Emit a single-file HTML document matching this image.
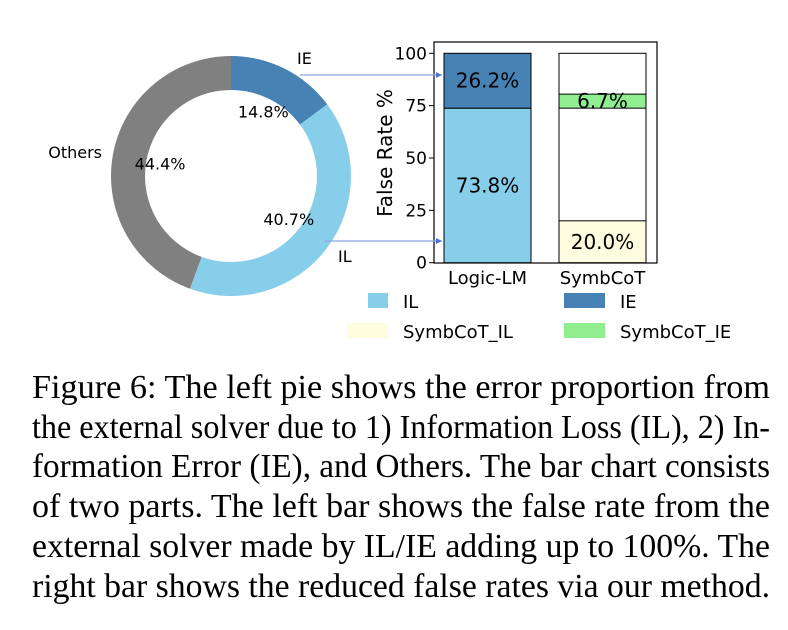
<!DOCTYPE html>
<html><head><meta charset="utf-8"><style>
html,body{margin:0;padding:0;background:#fff;}
svg{display:block;}
</style></head><body>
<svg id="fig" width="788" height="630" viewBox="0 0 788 630" xmlns="http://www.w3.org/2000/svg" font-family="'DejaVu Sans', 'Liberation Sans', sans-serif">
<defs><marker id="ah" viewBox="0 0 10 10" refX="10" refY="5" markerWidth="5" markerHeight="5" orient="auto"><path d="M0,0L10,5L0,10z" fill="#4a72d8"/></marker></defs>
<g id="pie"></g>
<g id="bars"></g>
<line x1="300" y1="75" x2="442" y2="75" stroke="#8aa6e6" stroke-width="1.2" marker-end="url(#ah)"/>
<line x1="325" y1="241" x2="442" y2="241" stroke="#8aa6e6" stroke-width="1.2" marker-end="url(#ah)"/>
<g font-size="18">
<rect x="368" y="293" width="20" height="15" fill="#87ceeb"/>
<text x="403" y="308">IL</text>
<rect x="564" y="293" width="41" height="15" fill="#4682b4"/>
<text x="620" y="308">IE</text>
<rect x="347" y="323" width="41" height="15" fill="#fffde0"/>
<text x="403" y="338">SymbCoT_IL</text>
<rect x="564" y="323" width="41" height="15" fill="#90ee90"/>
<text x="620" y="338">SymbCoT_IE</text>
</g>
<g font-family="'Liberation Serif', serif" font-size="34">
<text x="32" y="398" textLength="738" lengthAdjust="spacingAndGlyphs">Figure 6: The left pie shows the error proportion from</text>
<text x="32" y="438" textLength="738" lengthAdjust="spacingAndGlyphs">the external solver due to 1) Information Loss (IL), 2) In-</text>
<text x="32" y="477" textLength="738" lengthAdjust="spacingAndGlyphs">formation Error (IE), and Others. The bar chart consists</text>
<text x="32" y="517" textLength="738" lengthAdjust="spacingAndGlyphs">of two parts. The left bar shows the false rate from the</text>
<text x="32" y="557" textLength="738" lengthAdjust="spacingAndGlyphs">external solver made by IL/IE adding up to 100%. The</text>
<text x="32" y="597" textLength="738" lengthAdjust="spacingAndGlyphs">right bar shows the reduced false rates via our method.</text>
</g>
</svg>
<script>
const pieLabels = ["IE","IL","Others"];
const pieValues = [14.8, 40.7, 44.4];
const pieColors = ["#4682b4","#87ceeb","#808080"];
const barCategories = ["Logic-LM","SymbCoT"];
const ilValues = [73.8, 20.0];
const ieValues = [26.2, 6.7];
const yTicks = [0,25,50,75,100];
const NS="http://www.w3.org/2000/svg";
function mk(tag, attrs, parent, txt){const e=document.createElementNS(NS,tag);for(const k in attrs)e.setAttribute(k,attrs[k]);if(txt!==undefined)e.textContent=txt;parent.appendChild(e);return e;}
const pie=document.getElementById('pie');
const cx=231, cy=176, R=120, r=86;
const total=pieValues.reduce((a,b)=>a+b,0);
let ang=0;
const labelPos=[[297,58,'start'],[338,256,'start'],[102,152,'end']];
pieValues.forEach((v,i)=>{
  const a0=ang, a1=ang+v/total*2*Math.PI; ang=a1;
  const p=(a,rr)=>[cx+rr*Math.sin(a), cy-rr*Math.cos(a)];
  const [x0,y0]=p(a0,R),[x1,y1]=p(a1,R),[x2,y2]=p(a1,r),[x3,y3]=p(a0,r);
  const large=(a1-a0)>Math.PI?1:0;
  const s=mk('path',{d:`M${x0},${y0}A${R},${R} 0 ${large} 1 ${x1},${y1}L${x2},${y2}A${r},${r} 0 ${large} 0 ${x3},${y3}Z`,fill:pieColors[i]},pie);
  
  
  const mid=(a0+a1)/2;
  const [tx,ty]=p(mid,R*0.6);
  const t=mk('text',{x:tx,y:ty+6,'text-anchor':'middle','font-size':16},pie,v.toFixed(1)+'%');
  
  
  const l=mk('text',{x:labelPos[i][0],y:labelPos[i][1]+6,'text-anchor':labelPos[i][2],'font-size':16},pie,pieLabels[i]);
  
  
});
const g=document.getElementById('bars');
const ax0=434, ax1=657, ay0=42, ay1=263;
const yBase=262.7, yScale=2.094;
const Y=v=>yBase-v*yScale;
const barX=[444,559], barW=87;
const fr=mk('rect',{x:ax0,y:ay0,width:ax1-ax0,height:ay1-ay0,fill:'none',stroke:'#000','stroke-width':1.2},g);


yTicks.forEach(t=>{
  const tk=mk('line',{x1:ax0-5,x2:ax0,y1:Y(t),y2:Y(t),stroke:'#000'},g);
  
  
  const tl=mk('text',{x:ax0-7,y:Y(t)+6,'text-anchor':'end','font-size':17},g,String(t));
  
  
});
const yt=mk('text',{transform:`translate(392,153) rotate(-90)`,'text-anchor':'middle','font-size':20},g,'False Rate %');


barCategories.forEach((c,i)=>{
  const x=barX[i];
  const il=ilValues[i], ie=ieValues[i];
  if(i===1){
    const bg=mk('rect',{x:x,y:Y(100),width:barW,height:Y(0)-Y(100),fill:'#fff',stroke:'#000','stroke-width':1},g);
    
    
  }
  const ilColor=i===0?'#87ceeb':'#fffde0';
  const ieColor=i===0?'#4682b4':'#90ee90';
  const ieBase=ilValues[0];
  const b1=mk('rect',{x:x,y:Y(il),width:barW,height:Y(0)-Y(il),fill:ilColor,stroke:'#000','stroke-width':1},g);
  
  
  const b2=mk('rect',{x:x,y:Y(ieBase+ie),width:barW,height:Y(ieBase)-Y(ieBase+ie),fill:ieColor,stroke:'#000','stroke-width':1},g);
  
  
  const t1=mk('text',{x:x+barW/2,y:Y(il/2)+7,'text-anchor':'middle','font-size':20},g,il.toFixed(1)+'%');
  
  
  const t2=mk('text',{x:x+barW/2,y:Y(ieBase+ie/2)+7,'text-anchor':'middle','font-size':20},g,ie.toFixed(1)+'%');
  
  
  const xl=mk('text',{x:x+barW/2,y:284,'text-anchor':'middle','font-size':18},g,c);
  
  
});
</script>
</body></html>
